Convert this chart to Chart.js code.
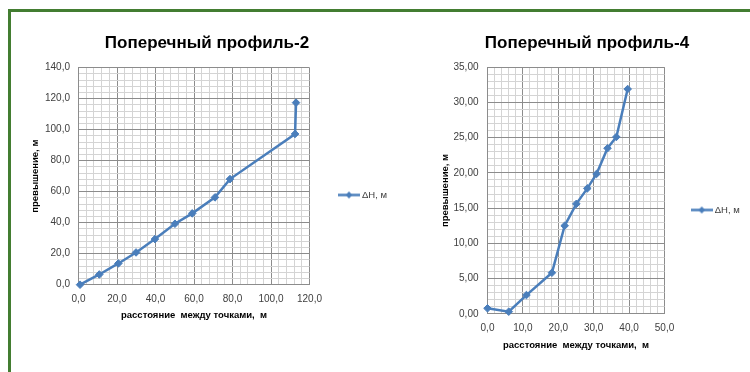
<!DOCTYPE html>
<html><head><meta charset="utf-8">
<script src="https://cdn.jsdelivr.net/npm/chart.js@4/dist/chart.umd.min.js"></script>
<style>
html,body{margin:0;padding:0;background:#fff;overflow:hidden;width:750px;height:372px;position:relative}
.bt{position:absolute;left:8px;top:9px;width:760px;height:3px;background:#437d31}
.bl{position:absolute;left:8px;top:9px;width:3px;height:380px;background:#437d31}
canvas{position:absolute;top:0}
</style></head><body>
<div class="bt"></div><div class="bl"></div>
<canvas id="c1" width="414" height="390" style="left:0"></canvas>
<canvas id="c2" width="346" height="420" style="left:414px"></canvas>
<script>
// ---- data ----
const seriesLabel = 'ΔH, м';
const titleProfile2 = 'Поперечный профиль-2';
const titleProfile4 = 'Поперечный профиль-4';
const xAxisTitle = 'расстояние  между точками,  м';
const yAxisTitle = 'превышение, м';

const profile2Distance = [0.8, 10.8, 20.7, 29.9, 39.7, 50.1, 59.1, 70.9, 78.7, 112.5, 113.0];
const profile2Rise     = [0.0, 6.6, 13.7, 20.8, 29.4, 39.3, 46.0, 56.3, 68.1, 97.2, 117.4];

const profile4Distance = [0.0, 6.0, 11.0, 18.2, 21.8, 25.1, 28.2, 30.8, 33.9, 36.4, 39.6];
const profile4Rise     = [0.78, 0.30, 2.66, 5.83, 12.5, 15.6, 17.8, 19.85, 23.5, 25.1, 31.9];

// axis ranges / ticks (major labelled, minor grid)
const profile2XTicks = {max: 120, major: 20, minor: 4, decimals: 1};
const profile2YTicks = {max: 140, major: 20, minor: 4, decimals: 1};
const profile4XTicks = {max: 50, major: 10, minor: 2, decimals: 1};
const profile4YTicks = {max: 35, major: 5, minor: 1, decimals: 2};

// ---- styling ----
const FONT = "'Liberation Sans', Arial, sans-serif";
const BLUE = '#4a7ebb';
const MAJOR = '#8c8c8c';
const MINOR = '#d4d4d4';

function legendIcon() {
  const c = document.createElement('canvas');
  c.width = 22; c.height = 9;
  const g = c.getContext('2d');
  g.strokeStyle = BLUE; g.lineWidth = 2.5;
  g.beginPath(); g.moveTo(0, 4.5); g.lineTo(22, 4.5); g.stroke();
  g.fillStyle = BLUE;
  g.beginPath(); g.moveTo(11, 1); g.lineTo(14.5, 4.5); g.lineTo(11, 8); g.lineTo(7.5, 4.5); g.closePath(); g.fill();
  return c;
}
const ICON = legendIcon();

function isMajor(v, major) { return Math.abs(v / major - Math.round(v / major)) < 1e-6; }

function axis(t, extra) {
  return Object.assign({
    type: 'linear', min: 0, max: t.max,
    ticks: {
      stepSize: t.minor, autoSkip: false, maxRotation: 0, color: '#404040',
      font: {family: FONT, size: 10},
      callback: v => isMajor(v, t.major) ? v.toFixed(t.decimals).replace('.', ',') : ''
    },
    grid: {
      drawTicks: false, lineWidth: 1,
      color: ctx => (ctx.tick && isMajor(ctx.tick.value, t.major)) ? MAJOR : MINOR
    },
    border: {display: true, color: MAJOR, width: 1}
  }, extra);
}

function buildChart(id, o) {
  const data = o.xs.map((x, i) => ({x: x, y: o.ys[i]}));
  return new Chart(document.getElementById(id), {
    type: 'line',
    data: {datasets: [{
      label: seriesLabel, data: data,
      borderColor: BLUE, backgroundColor: BLUE, borderWidth: 2.5,
      pointStyle: 'rectRot', pointRadius: 3.8, pointBorderWidth: 1,
      pointBackgroundColor: BLUE, pointBorderColor: BLUE,
      tension: 0, fill: false, clip: false
    }]},
    options: {
      responsive: false, animation: false, devicePixelRatio: 1,
      layout: {padding: 0},
      plugins: {
        tooltip: {enabled: false},
        title: {display: true, text: o.title, color: '#000',
          font: {family: FONT, size: 17, weight: 'bold'},
          padding: {top: o.titleTop, bottom: o.titleBottom}},
        legend: {
          position: 'right', align: 'center',
          labels: {
            usePointStyle: true, pointStyleWidth: 16.5, padding: o.legendPad,
            color: '#404040', font: {family: FONT, size: 9.5},
            generateLabels: chart => chart.data.datasets.map((ds, i) => ({
              text: ds.label, pointStyle: ICON, fillStyle: BLUE, strokeStyle: BLUE,
              lineWidth: 0, hidden: false, datasetIndex: i, fontColor: '#404040'
            }))
          }
        }
      },
      scales: {
        x: axis(o.xt, {
          afterFit: s => { s.height = o.xHeight; s.paddingRight = o.rightSpace; },
          title: {display: true, text: xAxisTitle, color: '#000',
            font: {family: FONT, size: 9.5, weight: 'bold'},
            padding: {top: 0, bottom: o.xTitlePad}}
        }),
        y: axis(o.yt, {
          afterFit: s => { s.width = o.yWidth; },
          title: {display: true, text: yAxisTitle, color: '#000',
            font: {family: FONT, size: 9.5, weight: 'bold'},
            padding: {top: o.yTitlePad, bottom: 0}}
        })
      }
    }
  });
}

const c1 = buildChart('c1', {
  xs: profile2Distance, ys: profile2Rise, title: titleProfile2,
  xt: profile2XTicks, yt: profile2YTicks,
  titleTop: 32.8, titleBottom: 14.4, legendPad: 31.25,
  xHeight: 105.3, rightSpace: 104.5, xTitlePad: 69.3, yWidth: 78.5, yTitlePad: 30
});
c1.options.scales.x.ticks.padding = 8.8; c1.options.scales.y.ticks.padding = 8.5; c1.update();

const c2 = buildChart('c2', {
  xs: profile4Distance, ys: profile4Rise, title: titleProfile4,
  xt: profile4XTicks, yt: profile4YTicks,
  titleTop: 32.8, titleBottom: 14, legendPad: 28.95,
  xHeight: 106.2, rightSpace: 95.5, xTitlePad: 68.6, yWidth: 73.5, yTitlePad: 25.3
});
c2.options.scales.x.ticks.padding = 8.2; c2.options.scales.y.ticks.padding = 9; c2.update();
</script>
</body></html>
